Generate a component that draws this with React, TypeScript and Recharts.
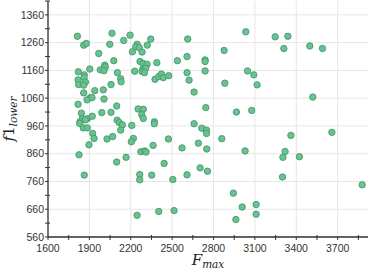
import React from 'react'
import { ScatterChart, Scatter, XAxis, YAxis, CartesianGrid, Label } from 'recharts'

// F_max values (x)
const fMax = [
  1813, 1859, 1878, 2064, 2048, 2149, 2195, 2246, 2236, 2262, 2320, 2345, 2212, 2282, 1968,
  1903, 2077, 2011, 2016, 1979, 2006, 1820, 1863, 1861, 1818, 1871, 1822, 1859, 2103, 2127,
  2130, 2057, 1859, 1939, 2001, 1907, 1919, 1883, 2006, 1818, 1990, 2057, 2098, 1842, 1849,
  1832, 1885, 1871, 1921, 1830, 1856, 1885, 2101, 2117, 2139, 2207, 2253, 2291, 2280, 2291,
  2371, 2371, 2229, 2267, 2291, 2318, 2287, 2309, 2282, 2299, 2389, 2376, 2403, 2422, 2436,
  2475, 2538, 2127, 1924, 1934, 2028, 2069, 2219, 2204, 2473,
  1825, 1897, 1863, 2098, 2166, 2273, 2301, 2311, 2362, 2572, 2265, 2265, 2352, 2442, 2505,
  2246, 2403, 2514, 2608,
  2613, 3034, 3247, 3339, 3310, 3498, 3590, 2877, 2608, 2739, 2739, 2608, 2739, 2623, 2659,
  2882, 3046, 3092, 3116, 3520, 2744, 2966, 3077, 2659, 2715, 2749, 2749, 2860, 3361, 3658,
  2690, 2751, 3029, 3319, 3303, 3423, 2703, 2756, 3300, 2944, 3008, 3109, 3109, 2962, 3878,
]

// f1_lower values (y), same order
const f1Lower = [
  1283, 1251, 1257, 1294, 1254, 1268, 1287, 1254, 1245, 1242, 1251, 1273, 1227, 1226, 1221,
  1165, 1195, 1179, 1173, 1162, 1159, 1155, 1144, 1134, 1126, 1118, 1109, 1107, 1152, 1130,
  1119, 1109, 1079, 1087, 1090, 1062, 1062, 1054, 1057, 1038, 1008, 1009, 1032, 1006, 986,
  975, 986, 982, 995, 969, 953, 953, 981, 972, 964, 962, 1021, 1020, 1000, 987,
  975, 968, 1157, 1192, 1185, 1182, 1165, 1168, 1156, 1152, 1188, 1128, 1138, 1147, 1134,
  1141, 1195, 945, 933, 915, 913, 922, 915, 903, 913,
  856, 892, 783, 830, 847, 867, 870, 866, 890, 881, 785, 766, 783, 825, 767,
  638, 652, 655, 784,
  1273, 1299, 1281, 1283, 1239, 1248, 1239, 1232, 1210, 1198, 1192, 1152, 1158, 1125, 1082,
  1114, 1158, 1144, 1108, 1064, 1026, 1010, 1016, 968, 952, 945, 933, 914, 926, 937,
  898, 877, 870, 868, 847, 849, 809, 797, 776, 718, 668, 677, 642, 623, 748,
]

const xMajor = [1600, 1900, 2200, 2500, 2800, 3100, 3400, 3700]
const xTicks = [1600, 1750, 1900, 2050, 2200, 2350, 2500, 2650, 2800, 2950, 3100, 3250, 3400, 3550, 3700, 3850]
const yMajor = [560, 660, 760, 860, 960, 1060, 1160, 1260, 1360]
const yTicks = [560, 610, 660, 710, 760, 810, 860, 910, 960, 1010, 1060, 1110, 1160, 1210, 1260, 1310, 1360, 1410]

const data = fMax.map((x, i) => ({ x, y: f1Lower[i] }))

const tickFont = { fontFamily: 'Liberation Sans, Arial, sans-serif', fontSize: 10.5, fill: '#333' }
const axisColor = '#333'

const XTick = ({ x, y, payload }: any) => {
  const major = xMajor.includes(payload.value)
  return (
    <g>
      <line x1={x} x2={x} y1={major ? y : y - 2} y2={y + 3} stroke={axisColor} strokeWidth={1} />
      {major && (
        <text x={x} y={y + 15} textAnchor="middle" {...tickFont}>
          {payload.value}
        </text>
      )}
    </g>
  )
}

const YTick = ({ x, y, payload }: any) => {
  const major = yMajor.includes(payload.value)
  return (
    <g>
      <line x1={x - 3} x2={major ? x : x + 2} y1={y} y2={y} stroke={axisColor} strokeWidth={1} />
      {major && (
        <text x={x - 4} y={y} dy="0.36em" textAnchor="end" {...tickFont}>
          {payload.value}
        </text>
      )}
    </g>
  )
}

const Dot = ({ cx, cy }: any) => (
  <circle cx={cx} cy={cy} r={3.2} fill="#6cc092" stroke="#3f9d6b" strokeWidth={0.9} />
)

const labelFont = { fontFamily: 'DejaVu Serif, serif', fontStyle: 'italic', fill: '#222' }

const XLabel = ({ viewBox }: any) => (
  <text x={viewBox.x + viewBox.width / 2} y={265} textAnchor="middle" fontSize={15} {...labelFont}>
    F<tspan fontSize={10.5} dy={3}>max</tspan>
  </text>
)

const YLabel = ({ viewBox }: any) => {
  const cy = viewBox.y + viewBox.height / 2
  return (
    <text transform={`translate(14, ${cy}) rotate(-90)`} textAnchor="middle" fontSize={15} {...labelFont}>
      f<tspan fontStyle="normal">1</tspan>
      <tspan fontSize={10.5} dy={3}>lower</tspan>
    </text>
  )
}

export default function App() {
  return (
    <div style={{ position: 'absolute', left: 0, top: 0, background: '#fff' }}>
      <ScatterChart width={369} height={273} margin={{ top: 1, right: 1, bottom: 0, left: 0 }}>
        <CartesianGrid
          stroke="#e6e6e6"
          strokeWidth={1}
          horizontalValues={yMajor}
          verticalValues={xMajor}
        />
        <XAxis
          type="number"
          dataKey="x"
          domain={[1600, 3920]}
          ticks={xTicks}
          interval={0}
          height={36}
          tickSize={0}
          tickMargin={0}
          tickLine={false}
          tick={<XTick />}
          axisLine={{ stroke: axisColor, strokeWidth: 1.3 }}
          allowDataOverflow
        >
          <Label content={<XLabel />} />
        </XAxis>
        <YAxis
          type="number"
          dataKey="y"
          domain={[560, 1410]}
          ticks={yTicks}
          interval={0}
          width={48}
          tickSize={0}
          tickMargin={0}
          tickLine={false}
          tick={<YTick />}
          axisLine={{ stroke: axisColor, strokeWidth: 1.3 }}
          allowDataOverflow
        >
          <Label content={<YLabel />} />
        </YAxis>
        <Scatter data={data} shape={<Dot />} isAnimationActive={false} />
      </ScatterChart>
    </div>
  )
}
